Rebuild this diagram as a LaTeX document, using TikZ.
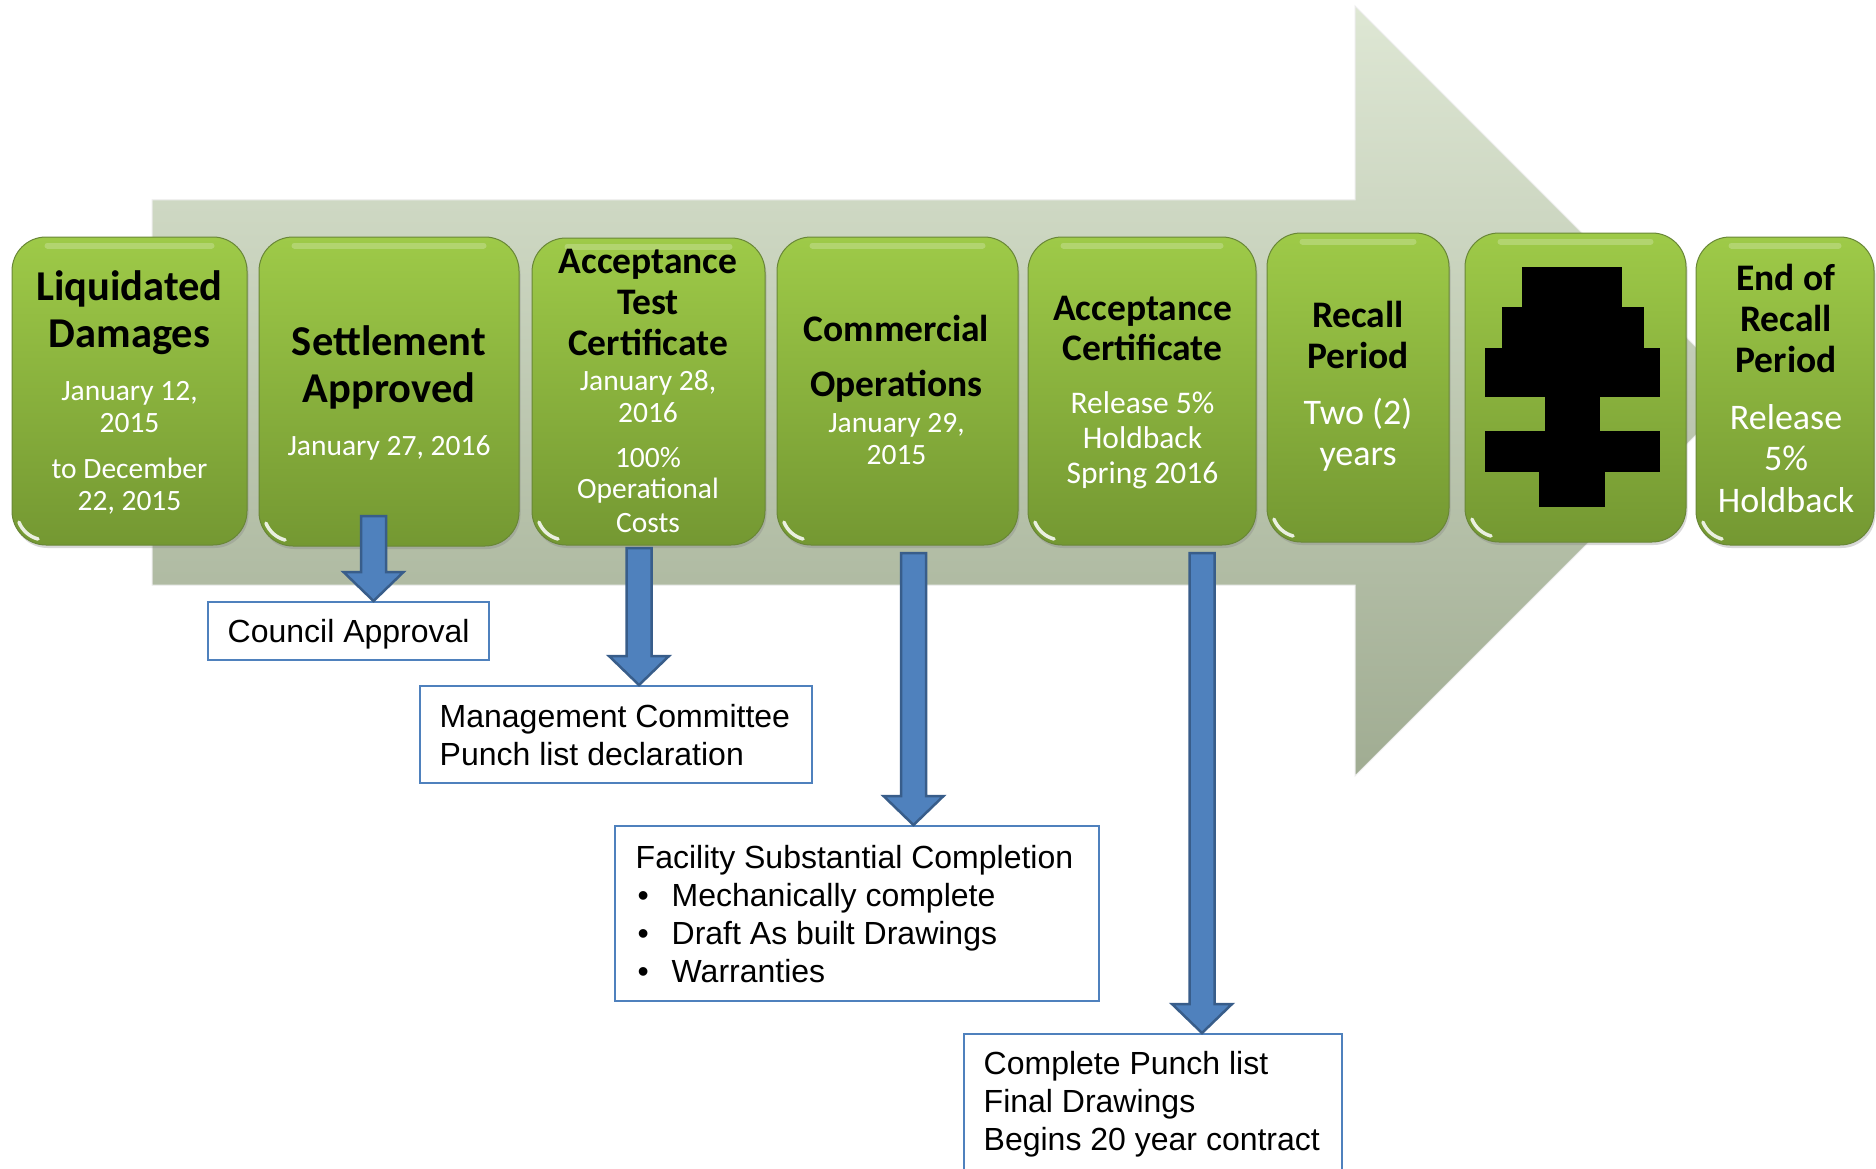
\documentclass[tikz,border=0pt]{standalone}
\usepackage{fontspec}
\setmainfont{Liberation Sans}
\newfontfamily\calib{Carlito}
\usetikzlibrary{calc,shadows}
\definecolor{gtop}{RGB}{158,202,72}
\definecolor{gbot}{RGB}{116,152,50}
\definecolor{gedge}{RGB}{105,135,55}
\definecolor{atop}{RGB}{222,231,212}
\definecolor{abot}{RGB}{160,172,146}
\definecolor{bfill}{RGB}{79,129,189}
\definecolor{bedge}{RGB}{56,93,138}
\newcommand\txtline[5]{\node[#4,anchor=base] (#1) at (#2,#3) {#5};}
\newcommand\blockarrow[2]{%
  \path[fill=bfill, draw=bedge, line width=2.5pt, line join=miter]
    let \p1=(#1), \p2=(#2) in
    (\x1-12.5pt,\y1) -- (\x1+12.5pt,\y1) -- (\x1+12.5pt,\y2+29pt) -- (\x1+30pt,\y2+29pt)
    -- (\x1,\y2) -- (\x1-30pt,\y2+29pt) -- (\x1-12.5pt,\y2+29pt) -- cycle;}
\begin{document}
\begin{tikzpicture}[x=1pt,y=-1pt,
  gbox/.style={rounded corners=34pt, top color=gtop, bottom color=gbot, draw=gedge,
    line width=1pt, inner sep=0pt,
    drop shadow={opacity=0.3, shadow xshift=1.5pt, shadow yshift=-3pt}},
  tA/.style={font={\calib\bfseries\fontsize{42.5}{50}\selectfont}, text=black, inner sep=0pt},
  tB/.style={font={\calib\bfseries\fontsize{37.5}{44}\selectfont}, text=black, inner sep=0pt},
  wA/.style={font={\calib\fontsize{29.5}{34}\selectfont}, text=white, inner sep=0pt},
  wB/.style={font={\calib\fontsize{31.5}{36}\selectfont}, text=white, inner sep=0pt},
  wC/.style={font={\calib\fontsize{36}{42}\selectfont}, text=white, inner sep=0pt},
  notebox/.style={draw=bfill, line width=2pt, fill=white, inner sep=0pt},
  notetext/.style={inner sep=0pt, align=left, anchor=west, font={\fontsize{32}{38}\selectfont}},
]
\path[use as bounding box, fill=white] (0,0) rectangle (1876,1169);

% big background arrow
\path[top color=atop, bottom color=abot, draw=white!85!gray, line width=1pt]
  (152,200) -- (1355,200) -- (1355,6) -- (1740,391) -- (1355,776) -- (1355,585) -- (152,585) -- cycle;

% green boxes
\node[gbox, minimum width=235pt, minimum height=308pt] (b1) at (129.5,391) {};
\node[gbox, minimum width=260pt, minimum height=309pt] (b2) at (389,391.5) {};
\node[gbox, minimum width=233pt, minimum height=307pt] (b3) at (648.5,391.5) {};
\node[gbox, minimum width=241pt, minimum height=308pt] (b4) at (897.5,391) {};
\node[gbox, minimum width=228pt, minimum height=308pt] (b5) at (1142,391) {};
\node[gbox, minimum width=182pt, minimum height=309pt] (b6) at (1358,387.5) {};
\node[gbox, minimum width=221pt, minimum height=309pt] (b7) at (1575.5,387.5) {};
\node[gbox, minimum width=178pt, minimum height=308pt] (b8) at (1785,391) {};

\foreach \b in {b1,b2,b3,b4,b5,b6,b7,b8}{
  \draw[white, opacity=.22, line width=6pt, line cap=round]
    ($(\b.north west)+(36,9)$) -- ($(\b.north east)+(-36,9)$);
  \draw[white, opacity=.85, line width=3.5pt, line cap=round]
    ($(\b.south west)+(34,-34)+(-7.5,27.5)$) arc[start angle=105, end angle=158, radius=28.5];
}

% redaction in box 7
\fill[black] (1522,267) rectangle (1622,308);
\fill[black] (1502,307) rectangle (1644,349);
\fill[black] (1485,348) rectangle (1660,397);
\fill[black] (1545,396) rectangle (1600,432);
\fill[black] (1485,431) rectangle (1660,472);
\fill[black] (1539,471) rectangle (1605,507);

% box texts
\txtline{b1a}{129.5}{300}{tA}{Liquidated}
\txtline{b1b}{129.5}{347}{tA}{Damages}
\txtline{b1c}{129.5}{400}{wA}{January 12,}
\txtline{b1d}{129.5}{432}{wA}{2015}
\txtline{b1e}{129.5}{478}{wA}{to December}
\txtline{b1f}{129.5}{510}{wA}{22, 2015}

\txtline{b2a}{389}{355}{tA}{Settlement}
\txtline{b2b}{389}{402}{tA}{Approved}
\txtline{b2c}{389}{455}{wA}{January 27, 2016}

\txtline{b3a}{648}{273}{tB}{Acceptance}
\txtline{b3b}{648}{314}{tB}{Test}
\txtline{b3c}{648}{355}{tB}{Certificate}
\txtline{b3d}{648}{390}{wA}{January 28,}
\txtline{b3e}{648}{422}{wA}{2016}
\txtline{b3f}{648}{467}{wA}{100\%}
\txtline{b3g}{648}{498}{wA}{Operational}
\txtline{b3h}{648}{532}{wA}{Costs}

\txtline{b4a}{896.5}{341}{tB}{Commercial}
\txtline{b4b}{896.5}{396}{tB}{Operations}
\txtline{b4c}{896.5}{432}{wA}{January 29,}
\txtline{b4d}{896.5}{464}{wA}{2015}

\txtline{b5a}{1142.5}{320}{tB}{Acceptance}
\txtline{b5b}{1142.5}{360}{tB}{Certificate}
\txtline{b5c}{1142.5}{413}{wB}{Release 5\%}
\txtline{b5d}{1142.5}{448}{wB}{Holdback}
\txtline{b5e}{1142.5}{483}{wB}{Spring 2016}

\txtline{b6a}{1358}{327}{tB}{Recall}
\txtline{b6b}{1358}{368}{tB}{Period}
\txtline{b6c}{1358}{424}{wC}{Two (2)}
\txtline{b6d}{1358}{465}{wC}{years}

\txtline{b8a}{1786}{290}{tB}{End of}
\txtline{b8b}{1786}{331}{tB}{Recall}
\txtline{b8c}{1786}{372}{tB}{Period}
\txtline{b8d}{1786}{429}{wC}{Release}
\txtline{b8e}{1786}{470}{wC}{5\%}
\txtline{b8f}{1786}{512}{wC}{Holdback}

% note boxes
\node[notebox, minimum width=281pt, minimum height=58pt] (council) at (348.5,631) {};
\node[notetext] (councilt) at ($(council.west)+(20.5,3)$) {Council Approval};
\node[notebox, minimum width=392pt, minimum height=97pt] (mgmt) at (616,734.5) {};
\node[notetext] (mgmtt) at ($(mgmt.west)+(20.5,1)$) {Management Committee\\Punch list declaration};
\node[notebox, minimum width=484pt, minimum height=175pt] (facility) at (857,913.5) {};
\node[notetext] (facilityt) at ($(facility.west)+(21.5,1)$)
  {Facility Substantial Completion\\
   \makebox[36pt][l]{\hspace{2pt}•}Mechanically complete\\
   \makebox[36pt][l]{\hspace{2pt}•}Draft As built Drawings\\
   \makebox[36pt][l]{\hspace{2pt}•}Warranties};
\node[notebox, minimum width=378pt, minimum height=138pt] (complete) at (1153,1103) {};
\node[notetext] (completet) at ($(complete.west)+(20.5,1)$)
  {Complete Punch list\\Final Drawings\\Begins 20 year contract};

% blue block arrows
\coordinate (a1s) at (373.5,516);
\coordinate (a2s) at (639,548);
\coordinate (a3s) at (913.5,553);
\coordinate (a4s) at (1202,553);
\blockarrow{a1s}{council.north -| a1s}
\blockarrow{a2s}{mgmt.north -| a2s}
\blockarrow{a3s}{facility.north -| a3s}
\blockarrow{a4s}{complete.north -| a4s}
\end{tikzpicture}
\end{document}
